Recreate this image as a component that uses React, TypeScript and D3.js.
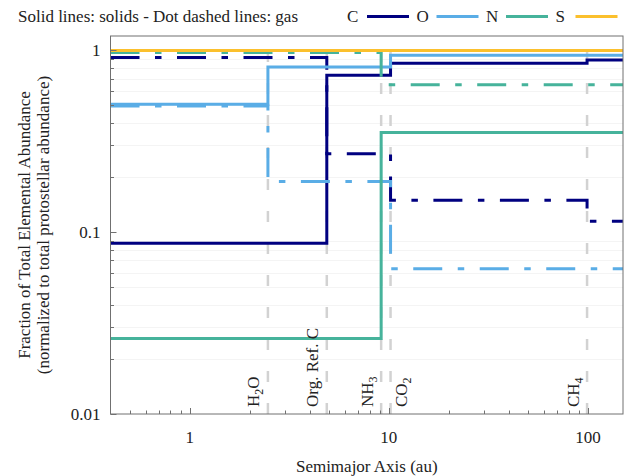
import React from "react";
import * as d3 from "d3";

// ---- data ----
const elements = ["C", "O", "N", "S"];
const elementColors = ["#000080", "#5aade6", "#46b39b", "#fbc02d"];
// zone boundaries (au): start, snowlines, end
const zoneEdges = [0.4, 2.47, 4.88, 9.15, 10.2, 99, 150];
// fraction in solids / gas for each zone
const solidC = [0.087, 0.087, 0.73, 0.73, 0.85, 0.885];
const gasC = [0.913, 0.913, 0.27, 0.27, 0.15, 0.115];
const solidO = [0.505, 0.81, 0.81, 0.81, 0.94, 0.94];
const gasO = [0.495, 0.19, 0.19, 0.19, 0.063, 0.063];
const solidN = [0.026, 0.026, 0.026, 0.353, 0.353, 0.353];
const gasN = [0.974, 0.974, 0.974, 0.647, 0.647, 0.647];
const solidS = [1, 1, 1, 1, 1, 1];
const gasS = [0, 0, 0, 0, 0, 0];

const snowlineNames = ["H2O", "Org. Ref. C", "NH3", "CO2", "CH4"];
const snowlinePositions = [2.47, 4.88, 9.15, 10.2, 99];
const snowlineLabelSide = ["left", "left", "left", "right", "left"];

const xTickValues = [1, 10, 100];
const xTickLabels = ["1", "10", "100"];
const yTickValues = [0.01, 0.1, 1];
const yTickLabels = ["0.01", "0.1", "1"];

const legendTitle = "Solid lines: solids - Dot dashed lines: gas";
const xTitle = "Semimajor Axis (au)";
const yTitle1 = "Fraction of Total Elemental Abundance";
const yTitle2 = "(normalized to total protostellar abundance)";

const solidSeries = [solidC, solidO, solidN, solidS];
const gasSeries = [gasC, gasO, gasN, gasS];

// ---- layout ----
const W = 639;
const H = 476;
const L = 110.5;
const R = 623;
const T = 36;
const B = 414;
const FONT = "'Liberation Serif', 'Times New Roman', serif";
const DASHDOT = "29,15.5,6.5,15.5";

const x = d3.scaleLog().domain([0.4, 150]).range([L, R]);
const y = d3.scaleLog().domain([0.01, 1.2]).range([B, T]);

function stepPath(vals: number[]) {
  const pts: [number, number][] = vals.map((v, i) => [zoneEdges[i], v]);
  pts.push([zoneEdges[zoneEdges.length - 1], vals[vals.length - 1]]);
  const line = d3
    .line<[number, number]>()
    .defined((d) => d[1] > 0)
    .x((d) => x(d[0]))
    .y((d) => y(d[1]))
    .curve(d3.curveStepAfter);
  return line(pts) || "";
}

function chemParts(name: string) {
  if (name.includes(" ")) return [{ t: name, sub: false }];
  const parts: { t: string; sub: boolean }[] = [];
  for (const ch of name) {
    const sub = /[0-9]/.test(ch);
    parts.push({ t: ch, sub });
  }
  return parts;
}

export default function App() {
  const minorX: number[] = [];
  for (let d = 0.1; d <= 100; d *= 10) {
    for (let k = 2; k <= 9; k++) {
      const v = d * k;
      if (v > 0.4 && v < 150 && !xTickValues.includes(v)) minorX.push(v);
    }
  }
  const minorY: number[] = [];
  for (const d of [0.01, 0.1]) {
    for (let k = 2; k <= 9; k++) minorY.push(d * k);
  }

  return (
    <svg
      width={W}
      height={H}
      style={{ position: "absolute", left: 0, top: 0, background: "#fff" }}
      fontFamily={FONT}
    >
      <rect x={0} y={0} width={W} height={H} fill="#fff" />
      {/* grid */}
      {minorY.map((v, i) => (
        <line key={"g" + i} x1={L} x2={R} y1={Math.round(y(v)) + 0.5} y2={Math.round(y(v)) + 0.5} stroke="#f1f1f1" strokeWidth={0.8} />
      ))}
      {/* snowlines */}
      {snowlinePositions.map((p, i) => (
        <line key={"s" + i} x1={x(p)} x2={x(p)} y1={B} y2={T} stroke="#d2d2d2" strokeWidth={2.5} strokeDasharray="11,21" />
      ))}
      {/* data */}
      {elements.map((el, i) => (
        <g key={el}>
          <path d={stepPath(solidSeries[i])} fill="none" stroke={elementColors[i]} strokeWidth={3} />
          <path d={stepPath(gasSeries[i])} fill="none" stroke={elementColors[i]} strokeWidth={3} strokeDasharray={DASHDOT} />
        </g>
      ))}
      {/* frame */}
      <rect x={L} y={T} width={R - L} height={B - T} fill="none" stroke="#707070" strokeWidth={1} />
      {/* x ticks */}
      {xTickValues.map((v, i) => (
        <g key={"xt" + i}>
          <line x1={Math.round(x(v)) + 0.5} x2={Math.round(x(v)) + 0.5} y1={B} y2={B - 6} stroke="#707070" />
          <text x={x(v)} y={443} textAnchor="middle" fontSize={17} fill="#222">{xTickLabels[i]}</text>
        </g>
      ))}
      {minorX.map((v, i) => (
        <line key={"xm" + i} x1={Math.round(x(v)) + 0.5} x2={Math.round(x(v)) + 0.5} y1={B} y2={B - 3.5} stroke="#707070" />
      ))}
      {/* y ticks */}
      {yTickValues.map((v, i) => (
        <g key={"yt" + i}>
          <line x1={L} x2={L + 6} y1={Math.round(y(v)) + 0.5} y2={Math.round(y(v)) + 0.5} stroke="#707070" />
          <text x={L - 10} y={y(v) + 6} textAnchor="end" fontSize={17} fill="#222">{yTickLabels[i]}</text>
        </g>
      ))}
      {minorY.map((v, i) => (
        <line key={"ym" + i} x1={L} x2={L + 3.5} y1={Math.round(y(v)) + 0.5} y2={Math.round(y(v)) + 0.5} stroke="#707070" />
      ))}
      {/* snowline labels */}
      {snowlineNames.map((n, i) => {
        const px = x(snowlinePositions[i]);
        const bx = snowlineLabelSide[i] === "left" ? px - 8.5 : px + 16;
        return (
          <text key={"sl" + i} transform={`translate(${bx},407) rotate(-90)`} fontSize={17} fill="#222">
            {chemParts(n).map((p, j) =>
              p.sub ? (
                <tspan key={j} fontSize={12} dy={4}>{p.t}</tspan>
              ) : (
                <tspan key={j} dy={j > 0 && chemParts(n)[j - 1].sub ? -4 : 0}>{p.t}</tspan>
              )
            )}
          </text>
        );
      })}
      {/* axis titles */}
      <text x={(L + R) / 2} y={472} textAnchor="middle" fontSize={17} fill="#222">{xTitle}</text>
      <text transform={`translate(30,${(T + B) / 2}) rotate(-90)`} textAnchor="middle" fontSize={17} fill="#222">{yTitle1}</text>
      <text transform={`translate(49,${(T + B) / 2}) rotate(-90)`} textAnchor="middle" fontSize={17} fill="#222">{yTitle2}</text>
      {/* legend */}
      <text x={18} y={22} fontSize={17} fill="#222">{legendTitle}</text>
      {elements.map((el, i) => {
        const lx = 347 + i * 69.5;
        return (
          <g key={"lg" + i}>
            <text x={lx} y={22} fontSize={17} fill="#222">{el}</text>
            <line x1={lx + 20} x2={lx + 62} y1={16.5} y2={16.5} stroke={elementColors[i]} strokeWidth={3} />
          </g>
        );
      })}
    </svg>
  );
}
